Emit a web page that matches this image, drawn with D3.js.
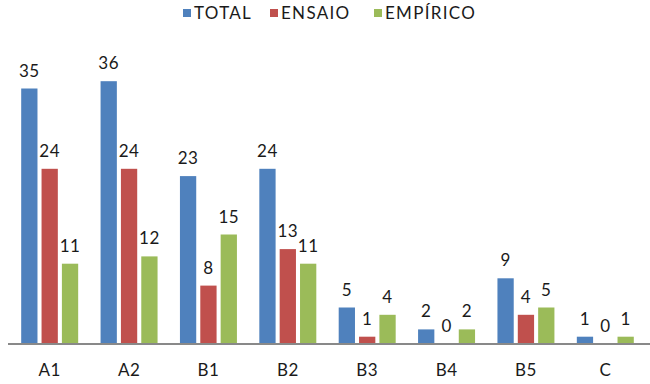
<!DOCTYPE html>
<html>
<head>
<meta charset="utf-8">
<script src="https://cdn.jsdelivr.net/npm/d3@7"></script>
<style>
  body { margin: 0; background: #fff; }
  text { font-family: "Lato", "Open Sans", sans-serif; fill: #1a1a1a; }
</style>
</head>
<body>
<svg id="chart"></svg>
<script>
const categories = ['A1', 'A2', 'B1', 'B2', 'B3', 'B4', 'B5', 'C'];
const seriesNames = ['TOTAL', 'ENSAIO', 'EMPÍRICO'];
const total = [35, 36, 23, 24, 5, 2, 9, 1];
const ensaio = [24, 24, 8, 13, 1, 0, 4, 0];
const empirico = [11, 12, 15, 11, 4, 2, 5, 1];
const colors = ['#4F81BD', '#C0504D', '#9BBB59'];

const width = 650, height = 384;
const margin = {top: 52, right: 5, bottom: 40, left: 10};

const svg = d3.select('#chart')
    .attr('width', width)
    .attr('height', height);

const rows = categories.map((c, i) => ({
    cat: c,
    values: [total[i], ensaio[i], empirico[i]]
}));

const xscale = d3.scaleBand()
    .domain(categories)
    .range([margin.left, width - margin.right])
    .paddingInner(0)
    .paddingOuter(0);

const inner = d3.scaleBand()
    .domain(seriesNames)
    .range([0, xscale.bandwidth()])
    .paddingInner(0.2)
    .paddingOuter(0.55);

const yscale = d3.scaleLinear()
    .domain([0, 40])
    .range([height - margin.bottom, margin.top]);

const groups = svg.selectAll('.group')
    .data(rows)
    .join('g')
    .attr('class', 'group')
    .attr('transform', d => `translate(${xscale(d.cat)}, 0)`);

const cells = groups.selectAll('.cell')
    .data(d => d.values.map((v, j) => ({name: seriesNames[j], v: v, j: j})))
    .join('g')
    .attr('class', 'cell');

cells.append('rect')
    .attr('x', d => inner(d.name))
    .attr('y', d => yscale(d.v))
    .attr('width', inner.bandwidth())
    .attr('height', d => yscale(0) - yscale(d.v))
    .attr('fill', d => colors[d.j]);

cells.append('text')
    .attr('x', d => inner(d.name) + inner.bandwidth() / 2)
    .attr('y', d => yscale(d.v) - 12)
    .attr('text-anchor', 'middle')
    .style('font-size', '17px')
    .style('letter-spacing', '0.5px')
    .text(d => d.v);

// x axis
const xaxis = d3.axisBottom(xscale).tickSize(0).tickPadding(20);
const xg = svg.append('g')
    .attr('transform', `translate(0, ${yscale(0)})`)
    .call(xaxis);
xg.select('.domain').attr('stroke', '#898989').attr('stroke-width', 2)
    .attr('d', `M${margin.left - 2},0H${width}`);
xg.selectAll('text')
    .style('font-size', '17px')
    .style('letter-spacing', '0.5px')
    .style('font-family', '"Lato", "Open Sans", sans-serif')
    .attr('fill', '#1a1a1a');

// legend
const legendX = [183, 270, 374];
const legend = svg.append('g');
const li = legend.selectAll('g')
    .data(seriesNames)
    .join('g')
    .attr('transform', (d, i) => `translate(${legendX[i]}, 13)`);
li.append('rect')
    .attr('x', 0).attr('y', -4)
    .attr('width', 8).attr('height', 8)
    .attr('fill', (d, i) => colors[i]);
li.append('text')
    .attr('x', 11).attr('y', 6)
    .style('font-size', '17px')
    .style('letter-spacing', '1.3px')
    .text(d => d);
</script>
</body>
</html>
